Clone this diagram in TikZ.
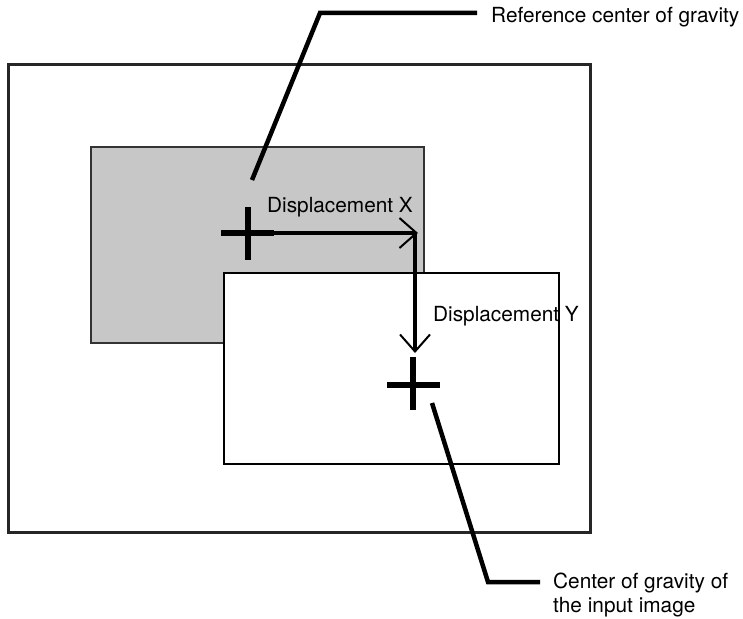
\documentclass[tikz,border=0pt]{standalone}
\usepackage{fontspec}
\setmainfont{TeX Gyre Heros}
\usepackage{tikz}
\usetikzlibrary{arrows.meta}

\begin{document}
\begin{tikzpicture}[
        x=1pt, y=-1pt,
        frame/.style={draw=black!85, line width=3pt},
        refimage/.style={draw=black!80, line width=2.5pt, fill=black!22},
        inimage/.style={draw=black, line width=2.5pt, fill=white},
        cross/.style={line width=6pt},
        leader/.style={line width=4.5pt},
        shiftarr/.style={line width=3.5pt, -{Straight Barb[length=17pt, width=30pt, line width=2pt]}},
        lbl/.style={font=\fontsize{20.8}{24}\selectfont, inner sep=0pt}
    ]
    \useasboundingbox (0,0) rectangle (743,618);
    \draw[frame] (8,64) rectangle (590,532);
    \draw[refimage] (91,147) rectangle (424,343);
    \draw[inimage] (224,273) rectangle (559,464);
    % centres of gravity
    \coordinate (refcg) at (248,233);
    \coordinate (incg) at (413,385);
    \draw[cross] (refcg) ++(-27,0) -- ++(53,0) (refcg) ++(0,-26) -- ++(0,53);
    \draw[cross] (incg) ++(-26,0) -- ++(53,0) (incg) ++(0,-28) -- ++(0,53);
    % displacement
    \coordinate (xend) at (418,233);
    \coordinate (ycorner) at (415,233);
    \coordinate (yend) at (415,353);
    \draw[shiftarr] (refcg) -- (xend);
    \draw[shiftarr] (ycorner) -- (yend);
    \node[lbl, anchor=base west] (dxlbl) at (267,212) {Displacement X};
    \node[lbl, anchor=base west] (dylbl) at (433,321) {Displacement Y};
    % labels
    \node[lbl, anchor=base west] (reflbl) at (491,23) {Reference center of gravity};
    \node[lbl, anchor=base west, align=left] (inlbl) at (553,612) {Center of gravity of\\the input image};
    \coordinate (reftip) at (252,180);
    \coordinate (refknee) at (320,13);
    \coordinate (intip) at (432,403);
    \coordinate (inknee) at (488,582);
    \draw[leader, shorten >=14pt] (reftip) -- (refknee) -- (reflbl.west |- refknee);
    \draw[leader, shorten >=13pt] (intip) -- (inknee) -- (inlbl.west |- inknee);
\end{tikzpicture}
\end{document}
